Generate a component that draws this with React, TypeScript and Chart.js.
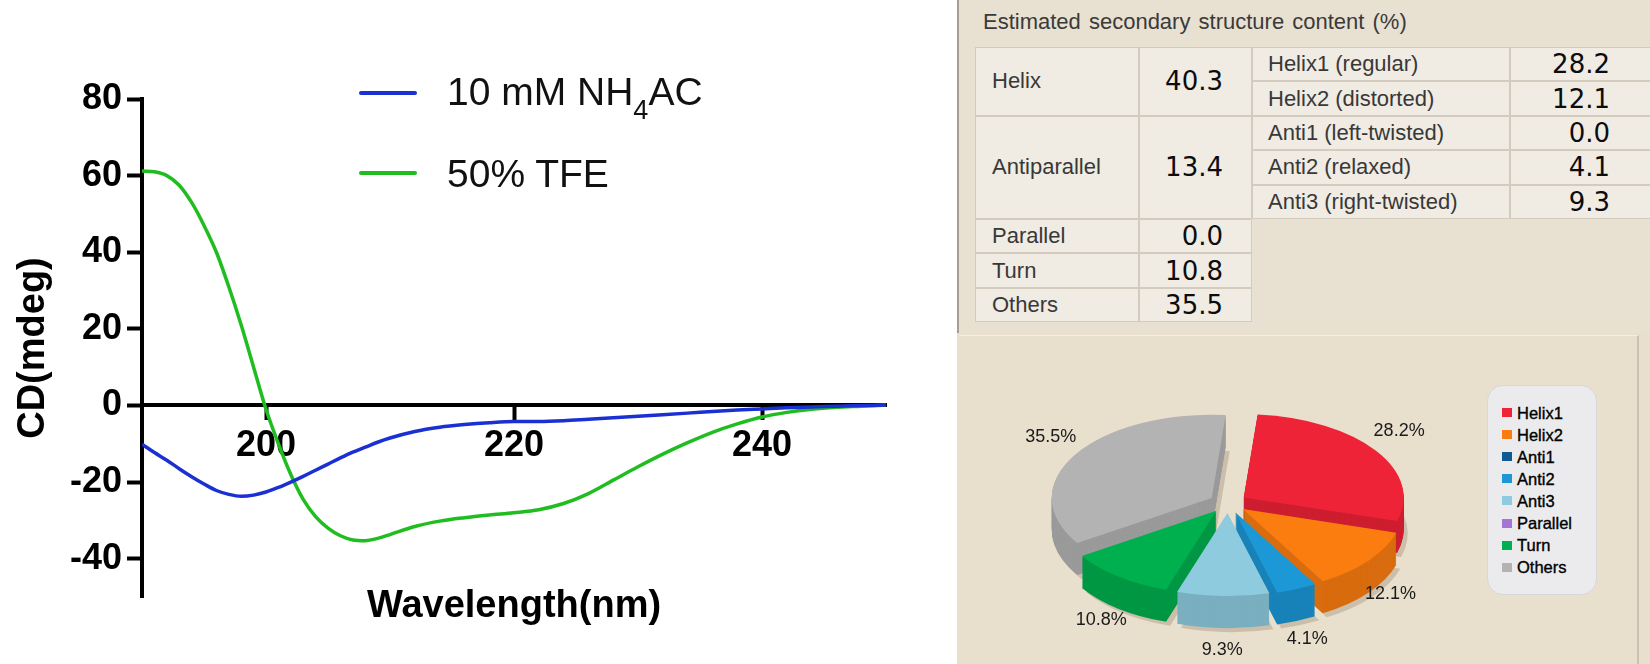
import React, { useEffect, useRef } from 'react';
import { Chart, registerables, ArcElement } from 'chart.js';

Chart.register(...registerables);

// ---------- CD spectrum data ----------
const wavelengthNm = [
  190, 191, 192, 193, 194, 195, 196, 197, 198, 199, 200, 201, 202, 203, 204, 205, 206, 207, 208, 209, 210,
  212, 214, 216, 218, 220, 222, 224, 226, 228, 230, 232, 234, 236, 238, 240, 242, 244, 246, 248, 250,
];
const cdNH4AC = [
  -10.1, -12.3, -14.3, -16.5, -18.6, -20.5, -22.2, -23.2, -23.7, -23.4, -22.6, -21.4, -20.0, -18.5, -16.9, -15.3, -13.7, -12.2, -10.9, -9.6, -8.5,
  -6.8, -5.7, -5.0, -4.5, -4.2, -4.2, -4.0, -3.6, -3.2, -2.8, -2.4, -2.0, -1.6, -1.2, -0.9, -0.6, -0.4, -0.2, 0.0, 0.1,
];
const cdTFE = [
  61.2, 61.0, 60.0, 57.5, 53.0, 47.0, 40.0, 31.0, 21.0, 10.0, -1.0, -10.0, -18.0, -24.5, -29.0, -32.0, -34.0, -35.1, -35.3, -34.7, -33.7,
  -31.6, -30.2, -29.3, -28.6, -28.0, -27.2, -25.6, -23.0, -19.5, -16.0, -12.7, -9.7, -7.0, -4.8, -3.0, -1.8, -1.0, -0.5, -0.2, 0.1,
];
const xTickValues = [200, 220, 240];
const yTickValues = [-40, -20, 0, 20, 40, 60, 80];

// ---------- Secondary structure data ----------
const structureLabels = ['Helix1', 'Helix2', 'Anti1', 'Anti2', 'Anti3', 'Parallel', 'Turn', 'Others'];
const structurePercent = [28.2, 12.1, 0.0, 4.1, 9.3, 0.0, 10.8, 35.5];
const structureColors = ['#ee2337', '#fb7d10', '#0f5a95', '#1c98d6', '#8ecbdf', '#a574d6', '#00b04f', '#b3b3b3'];

const tableMainLabels = ['Helix', 'Antiparallel', 'Parallel', 'Turn', 'Others'];
const tableMainValues = ['40.3', '13.4', '0.0', '10.8', '35.5'];
const tableMainRowSpans = [2, 3, 1, 1, 1];
const tableSubLabels = ['Helix1 (regular)', 'Helix2 (distorted)', 'Anti1 (left-twisted)', 'Anti2 (relaxed)', 'Anti3 (right-twisted)'];
const tableSubValues = ['28.2', '12.1', '0.0', '4.1', '9.3'];

const ARIAL = '"Liberation Sans", Arial, Helvetica, sans-serif';

// ---------- CD chart ----------
const xTitlePlugin = {
  id: 'xTitleBelow',
  afterDraw(chart: any) {
    const { ctx, chartArea } = chart;
    ctx.save();
    ctx.font = `bold 38px ${ARIAL}`;
    ctx.fillStyle = '#000';
    ctx.textAlign = 'center';
    ctx.textBaseline = 'middle';
    ctx.fillText('Wavelength(nm)', (chartArea.left + chartArea.right) / 2, chartArea.bottom + 10);
    ctx.restore();
  },
};

function CDChart() {
  const ref = useRef<HTMLCanvasElement>(null);
  useEffect(() => {
    const tickFont = { family: ARIAL, size: 36, weight: 'bold' as const, lineHeight: 1.2 };
    const chart = new Chart(ref.current as HTMLCanvasElement, {
      type: 'line',
      data: {
        datasets: [
          {
            label: '10 mM NH4AC',
            data: wavelengthNm.map((x, i) => ({ x, y: cdNH4AC[i] })),
            borderColor: '#1a30d2',
            borderWidth: 3.5,
            pointRadius: 0,
            cubicInterpolationMode: 'monotone',
            fill: false,
          },
          {
            label: '50% TFE',
            data: wavelengthNm.map((x, i) => ({ x, y: cdTFE[i] })),
            borderColor: '#1fbd1f',
            borderWidth: 3.5,
            pointRadius: 0,
            cubicInterpolationMode: 'monotone',
            fill: false,
          },
        ],
      },
      options: {
        animation: false,
        responsive: false,
        events: [],
        layout: { padding: { left: 0, top: 99, right: 44, bottom: 67 } },
        plugins: { legend: { display: false }, tooltip: { enabled: false } },
        scales: {
          x: {
            type: 'linear',
            min: 190,
            max: 250,
            position: { y: 0 } as any,
            afterBuildTicks: (s: any) => {
              s.ticks = xTickValues.map((v) => ({ value: v }));
            },
            grid: { display: true, drawOnChartArea: false, drawTicks: true, tickLength: 13, tickWidth: 4, tickColor: '#000' },
            border: { display: true, color: '#000', width: 4 },
            ticks: { font: tickFont, color: '#000', padding: 6, maxRotation: 0, autoSkip: false },
          },
          y: {
            type: 'linear',
            min: -50,
            max: 80,
            afterBuildTicks: (s: any) => {
              s.ticks = yTickValues.map((v) => ({ value: v }));
            },
            afterFit: (s: any) => {
              s.width = 142;
            },
            grid: { display: true, drawOnChartArea: false, drawTicks: true, tickLength: 15, tickWidth: 4, tickColor: '#000' },
            border: { display: true, color: '#000', width: 4 },
            ticks: { font: tickFont, color: '#000', padding: 5, autoSkip: false },
            title: {
              display: true,
              text: 'CD(mdeg)',
              color: '#000',
              font: { family: ARIAL, size: 38, weight: 'bold', lineHeight: 1.2 },
              padding: { top: 11, bottom: 0 },
            },
          },
        },
      },
      plugins: [xTitlePlugin],
    } as any);
    return () => chart.destroy();
  }, []);
  return (
    <canvas
      ref={ref}
      width={930}
      height={664}
      style={{ position: 'absolute', left: 0, top: 0, width: 930, height: 664 }}
    />
  );
}

// ---------- 3D exploded pie ----------
const PIE_SQUASH = 0.52;
const PIE_EXPLODE = 19;
const PIE_DEPTH = 32;
const PIE_RADIUS = 160;

const midAngle = (el: any) => (el.startAngle + el.endAngle) / 2;

function shade(hex: string, f: number) {
  const n = parseInt(hex.slice(1), 16);
  const r = Math.round(((n >> 16) & 255) * f);
  const g = Math.round(((n >> 8) & 255) * f);
  const b = Math.round((n & 255) * f);
  return `rgb(${r},${g},${b})`;
}

const pie3dPlugin = {
  id: 'pie3d',
  beforeDatasetsDraw(chart: any) {
    const ctx = chart.ctx;
    const els = chart.getDatasetMeta(0).data as any[];
    chart.$pieSaved = false;
    if (!els.length) return;
    const cy = els[0].y;
    els.forEach((el) => {
      if (!el.__exploded) {
        el.draw = function (c: CanvasRenderingContext2D, area: any) {
          const m = midAngle(this);
          c.save();
          c.translate(Math.cos(m) * PIE_EXPLODE, Math.sin(m) * PIE_EXPLODE);
          (ArcElement.prototype as any).draw.call(this, c, area);
          c.restore();
        };
        el.__exploded = true;
      }
    });
    ctx.save();
    chart.$pieSaved = true;
    ctx.translate(0, cy);
    ctx.scale(1, PIE_SQUASH);
    ctx.translate(0, -cy);
    const wedge = (el: any, dx: number, dy: number) => {
      const m = midAngle(el);
      const x = el.x + Math.cos(m) * PIE_EXPLODE + dx;
      const y = el.y + Math.sin(m) * PIE_EXPLODE + dy;
      ctx.beginPath();
      ctx.moveTo(x, y);
      ctx.arc(x, y, el.outerRadius, el.startAngle, el.endAngle);
      ctx.closePath();
      ctx.fill();
    };
    const order = els
      .map((_, i) => i)
      .filter((i) => els[i].circumference > 0)
      .sort((a, b) => Math.sin(midAngle(els[a])) - Math.sin(midAngle(els[b])));
    ctx.fillStyle = 'rgba(150,130,105,0.35)';
    order.forEach((i) => wedge(els[i], 4, (PIE_DEPTH + 4) / PIE_SQUASH));
    order.forEach((i) => {
      ctx.fillStyle = shade(structureColors[i], 0.86);
      for (let d = PIE_DEPTH; d >= 1; d--) wedge(els[i], 0, d / PIE_SQUASH);
    });
  },
  afterDatasetsDraw(chart: any) {
    const ctx = chart.ctx;
    if (chart.$pieSaved) ctx.restore();
    const els = chart.getDatasetMeta(0).data as any[];
    ctx.save();
    ctx.font = `18px ${ARIAL}`;
    ctx.fillStyle = '#1a1a1a';
    ctx.textAlign = 'center';
    ctx.textBaseline = 'middle';
    els.forEach((el, i) => {
      if (structurePercent[i] <= 0) return;
      const m = midAngle(el);
      const L = el.outerRadius + PIE_EXPLODE + 28;
      const x = el.x + Math.cos(m) * L;
      const y = el.y + Math.sin(m) * L * 0.62 + Math.max(0, Math.sin(m)) * PIE_DEPTH * 0.6;
      ctx.fillText(structurePercent[i].toFixed(1) + '%', x, y);
    });
    ctx.restore();
  },
};

function PieChart() {
  const ref = useRef<HTMLCanvasElement>(null);
  useEffect(() => {
    const chart = new Chart(ref.current as HTMLCanvasElement, {
      type: 'pie',
      data: {
        labels: structureLabels,
        datasets: [
          {
            data: structurePercent,
            backgroundColor: structureColors,
            borderWidth: 0,
            radius: PIE_RADIUS,
            clip: false,
          },
        ],
      },
      options: {
        animation: false,
        responsive: false,
        events: [],
        rotation: 5,
        layout: { padding: { left: 22, top: 7, right: 0, bottom: 0 } },
        plugins: { legend: { display: false }, tooltip: { enabled: false } },
      },
      plugins: [pie3dPlugin],
    } as any);
    return () => chart.destroy();
  }, []);
  return (
    <canvas
      ref={ref}
      width={520}
      height={329}
      style={{ position: 'absolute', left: 957, top: 335, width: 520, height: 329 }}
    />
  );
}

// ---------- Table ----------
const TABLE_X = [975, 1139, 1252, 1510, 1652];
const TABLE_TOP = 47;
const ROW_H = 34.4;

const cellBase: React.CSSProperties = {
  position: 'absolute',
  boxSizing: 'border-box',
  border: '1px solid #d3cbbd',
  background: '#f0ebe3',
  display: 'flex',
  alignItems: 'center',
  whiteSpace: 'nowrap',
  overflow: 'hidden',
};
const labelFont: React.CSSProperties = { fontFamily: ARIAL, fontSize: 22, color: '#383838' };
const valueFont: React.CSSProperties = { fontFamily: '"DejaVu Sans", sans-serif', fontSize: 26, color: '#0c0c0c' };

function StructureTable() {
  const cells: React.ReactNode[] = [];
  let row = 0;
  tableMainLabels.forEach((lab, i) => {
    const top = TABLE_TOP + row * ROW_H;
    const h = tableMainRowSpans[i] * ROW_H;
    row += tableMainRowSpans[i];
    cells.push(
      <div key={'ml' + i} style={{ ...cellBase, left: TABLE_X[0], top, width: TABLE_X[1] - TABLE_X[0], height: h, paddingLeft: 16, ...labelFont }}>
        {lab}
      </div>
    );
    cells.push(
      <div key={'mv' + i} style={{ ...cellBase, left: TABLE_X[1], top, width: TABLE_X[2] - TABLE_X[1], height: h, justifyContent: 'flex-end', paddingRight: 28, ...valueFont }}>
        {tableMainValues[i]}
      </div>
    );
  });
  tableSubLabels.forEach((lab, i) => {
    const top = TABLE_TOP + i * ROW_H;
    cells.push(
      <div key={'sl' + i} style={{ ...cellBase, left: TABLE_X[2], top, width: TABLE_X[3] - TABLE_X[2], height: ROW_H, paddingLeft: 15, ...labelFont }}>
        {lab}
      </div>
    );
    cells.push(
      <div key={'sv' + i} style={{ ...cellBase, left: TABLE_X[3], top, width: TABLE_X[4] - TABLE_X[3], height: ROW_H, justifyContent: 'flex-end', paddingRight: 41, ...valueFont }}>
        {tableSubValues[i]}
      </div>
    );
  });
  return <>{cells}</>;
}

function PieLegend() {
  return (
    <div
      style={{
        position: 'absolute',
        left: 1487,
        top: 385,
        width: 110,
        height: 210,
        boxSizing: 'border-box',
        background: '#ebebed',
        border: '1px solid #d8d8da',
        borderRadius: 16,
      }}
    >
      {structureLabels.map((lab, i) => {
        const cy = 411.5 + i * 22.1 - 385;
        return (
          <React.Fragment key={lab}>
            <div style={{ position: 'absolute', left: 14, top: cy - 4.5, width: 10, height: 9, background: structureColors[i] }} />
            <div
              style={{
                position: 'absolute',
                left: 29,
                top: cy - 8,
                fontFamily: ARIAL,
                fontSize: 16.5,
                lineHeight: '16px',
                color: '#000',
                whiteSpace: 'nowrap',
                WebkitTextStroke: '0.35px #000',
              }}
            >
              {lab}
            </div>
          </React.Fragment>
        );
      })}
    </div>
  );
}

function CDLegend() {
  const textStyle: React.CSSProperties = {
    position: 'absolute',
    left: 447,
    fontFamily: ARIAL,
    fontSize: 39,
    lineHeight: '39px',
    color: '#111',
    whiteSpace: 'nowrap',
  };
  return (
    <>
      <div style={{ position: 'absolute', left: 359, top: 90.7, width: 58, height: 4, background: '#1a30d2', borderRadius: 2 }} />
      <div style={{ ...textStyle, top: 72 }}>
        10 mM NH<span style={{ fontSize: 27, position: 'relative', top: 14 }}>4</span>AC
      </div>
      <div style={{ position: 'absolute', left: 359, top: 170.7, width: 58, height: 4, background: '#1fbd1f', borderRadius: 2 }} />
      <div style={{ ...textStyle, top: 154 }}>50% TFE</div>
    </>
  );
}

export default function App() {
  return (
    <div style={{ position: 'fixed', left: 0, top: 0, width: 1650, height: 664, background: '#ffffff', overflow: 'hidden' }}>
      <CDChart />
      <CDLegend />
      {/* right-hand panel */}
      <div style={{ position: 'absolute', left: 957, top: 0, width: 693, height: 333, background: '#e8e0d0', borderLeft: '2px solid #a49d91', boxSizing: 'border-box' }} />
      <div style={{ position: 'absolute', left: 983, top: 11, fontFamily: ARIAL, fontSize: 22, lineHeight: '22px', color: '#3a3a3a', whiteSpace: 'nowrap', wordSpacing: 2 }}>
        Estimated secondary structure content (%)
      </div>
      <StructureTable />
      <div style={{ position: 'absolute', left: 957, top: 333, width: 693, height: 331, background: '#e8dfcd' }} />
      <div style={{ position: 'absolute', left: 959, top: 335, width: 680, height: 329, boxSizing: 'border-box', borderTop: '1px solid #f4efe6', borderRight: '2px solid #cbc2b2' }} />
      <PieChart />
      <PieLegend />
    </div>
  );
}
